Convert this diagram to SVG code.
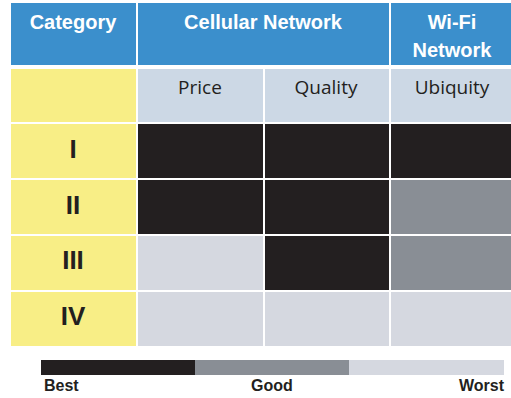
<svg xmlns="http://www.w3.org/2000/svg" width="511" height="398" viewBox="0 0 511 398">
<style>
.hd{fill:#3B8FCC}
.y{fill:#F8EE86}
.sub{fill:#CCD8E5}
.b{fill:#231F20}
.g{fill:#898E95}
.l{fill:#D5D8E0}
.ht{font-family:"Liberation Sans",Arial,sans-serif;font-weight:bold;font-size:20px;fill:#FFFFFF;text-anchor:middle}
.st{font-family:"Open Sans","Liberation Sans",Arial,sans-serif;font-size:19px;fill:#231F20;text-anchor:middle}
.rt{font-family:"Liberation Sans",Arial,sans-serif;font-weight:bold;font-size:26px;fill:#231F20;text-anchor:middle}
.lt{font-family:"Liberation Sans",Arial,sans-serif;font-weight:bold;font-size:16px;fill:#231F20}
</style>
<rect width="511" height="398" fill="#FFFFFF"/>
<g id="header">
<rect class="hd" x="11" y="3" width="125" height="62"/>
<rect class="hd" x="138" y="3" width="251" height="62"/>
<rect class="hd" x="391" y="3" width="120" height="62"/>
<text class="ht" x="73" y="29">Category</text>
<text class="ht" x="263" y="29">Cellular Network</text>
<text class="ht" x="452" y="29">Wi-Fi</text>
<text class="ht" x="452" y="57">Network</text>
</g>
<g id="subheader">
<rect class="y" x="11" y="69" width="125" height="53"/>
<rect class="sub" x="138" y="69" width="125" height="53"/>
<rect class="sub" x="265" y="69" width="124" height="53"/>
<rect class="sub" x="391" y="69" width="120" height="53"/>
<text class="st" x="200" y="94">Price</text>
<text class="st" x="326" y="94">Quality</text>
<text class="st" x="452" y="94">Ubiquity</text>
</g>
<g id="row-I">
<rect class="y" x="11" y="124" width="125" height="54"/>
<rect class="b" x="138" y="124" width="125" height="54"/>
<rect class="b" x="265" y="124" width="124" height="54"/>
<rect class="b" x="391" y="124" width="120" height="54"/>
<text class="rt" x="73" y="158">I</text>
</g>
<g id="row-II">
<rect class="y" x="11" y="180" width="125" height="54"/>
<rect class="b" x="138" y="180" width="125" height="54"/>
<rect class="b" x="265" y="180" width="124" height="54"/>
<rect class="g" x="391" y="180" width="120" height="54"/>
<text class="rt" x="73" y="214">II</text>
</g>
<g id="row-III">
<rect class="y" x="11" y="236" width="125" height="54"/>
<rect class="l" x="138" y="236" width="125" height="54"/>
<rect class="b" x="265" y="236" width="124" height="54"/>
<rect class="g" x="391" y="236" width="120" height="54"/>
<text class="rt" x="73" y="269">III</text>
</g>
<g id="row-IV">
<rect class="y" x="11" y="292" width="125" height="54"/>
<rect class="l" x="138" y="292" width="125" height="54"/>
<rect class="l" x="265" y="292" width="124" height="54"/>
<rect class="l" x="391" y="292" width="120" height="54"/>
<text class="rt" x="73" y="325">IV</text>
</g>
<g id="legend">
<rect class="b" x="41" y="360" width="154" height="15"/>
<rect class="g" x="195" y="360" width="154" height="15"/>
<rect class="l" x="349" y="360" width="155" height="15"/>
<text class="lt" x="44" y="391">Best</text>
<text class="lt" x="272" y="391" text-anchor="middle">Good</text>
<text class="lt" x="504" y="391" text-anchor="end">Worst</text>
</g>
<g id="connectors"/>
</svg>
